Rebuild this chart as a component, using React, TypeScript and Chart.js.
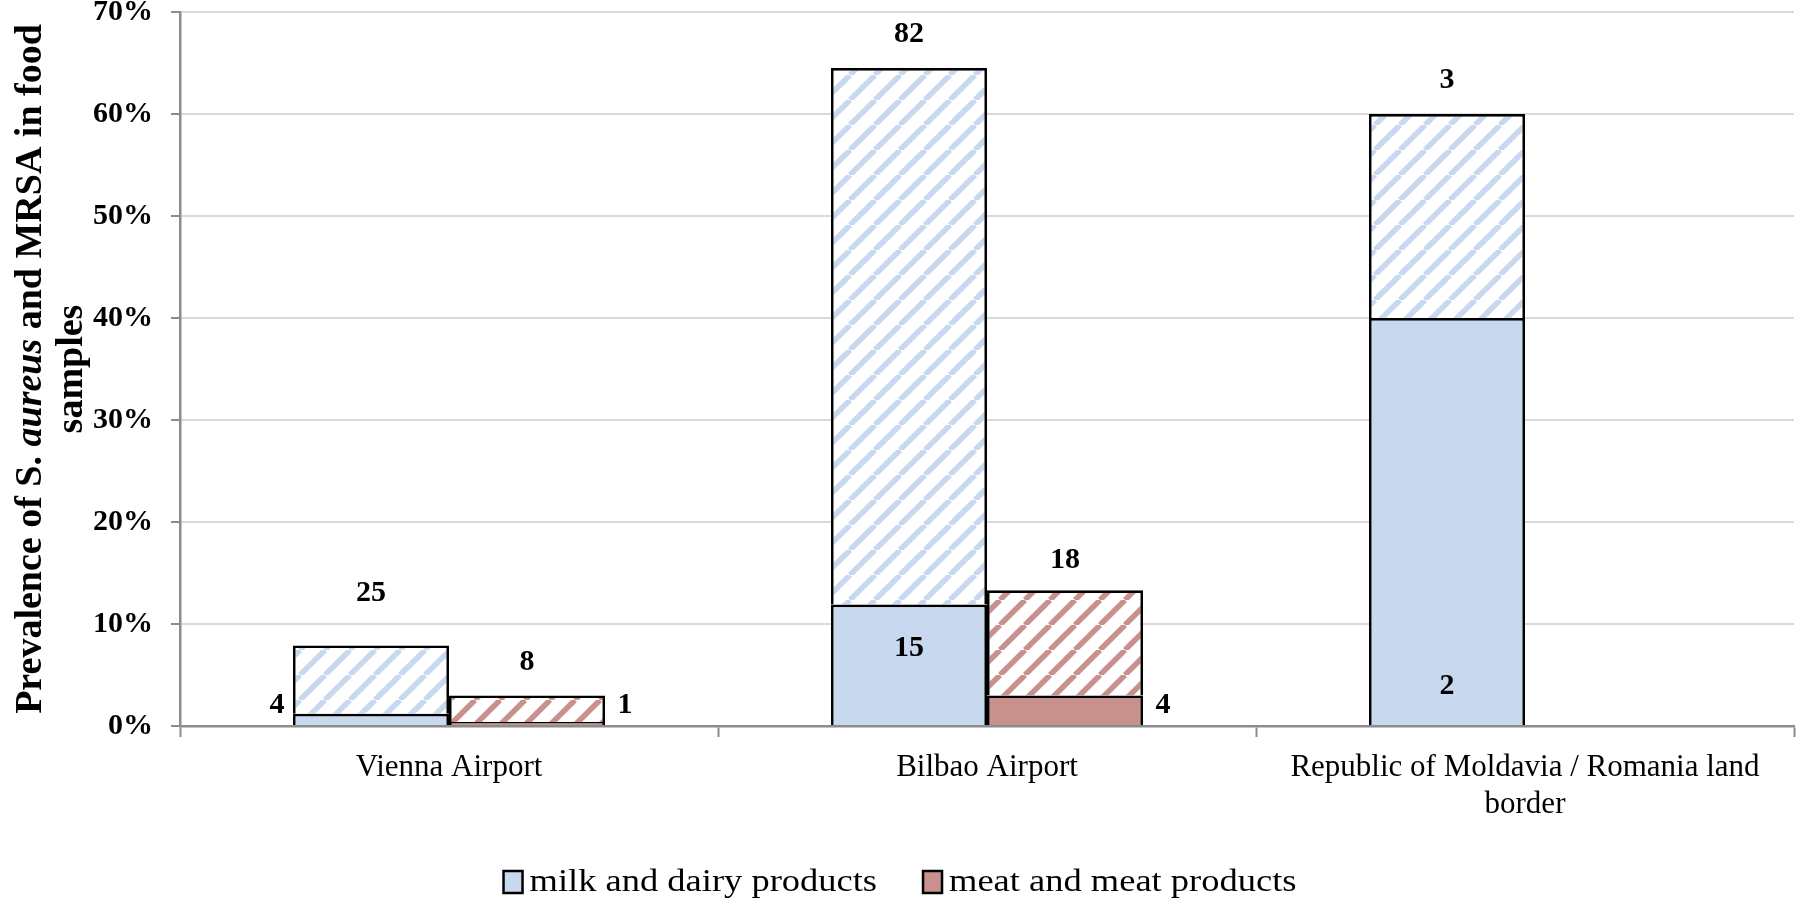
import { useEffect, useRef } from "react";
import { Chart, registerables } from "chart.js";

Chart.register(...registerables);

const categories = [
  ["Vienna Airport"],
  ["Bilbao Airport"],
  ["Republic of Moldavia / Romania land", "border"],
];

// prevalence (%) : solid = MRSA, hatched top = S. aureus
const milkMrsa = [1.2, 11.9, 40];
const milkSaureus = [7.9, 64.5, 60];
const meatMrsa = [0.4, 3.0, null];
const meatSaureus = [3.0, 13.3, null];

const milkSaureusLabels = ["25", "82", "3"];
const meatSaureusLabels = ["8", "18", ""];
const milkMrsaLabels = ["4", "15", "2"];
const meatMrsaLabels = ["1", "4", ""];

// where the small count labels sit
const milkTopLift = [52, 34, 34];
const meatTopLift = [33, 30, 30];
const milkMrsaPlace = ["left", "inside-top", "inside-bottom"];
const meatMrsaPlace = ["right", "right", ""];

const legendLabels = ["milk and dairy products", "meat and meat products"];

const MILK = "#C8D8EF";
const MEAT = "#C9918D";
const AXIS = "#8C8C8C";
const FONT = "'Liberation Serif', 'Times New Roman', serif";

function hatch(color: string) {
  const s = 25;
  const c = document.createElement("canvas");
  c.width = s;
  c.height = s;
  const g = c.getContext("2d")!;
  g.fillStyle = "#fff";
  g.fillRect(0, 0, s, s);
  g.strokeStyle = color;
  g.lineWidth = 5.5;
  for (const k of [-1, 0, 1]) {
    g.beginPath();
    g.moveTo(k * s, s);
    g.lineTo(k * s + s, 0);
    g.stroke();
  }
  return g.createPattern(c, "repeat")!;
}

const barLabels = {
  id: "barLabels",
  afterDatasetsDraw(chart: any) {
    const ctx = chart.ctx;
    ctx.save();
    ctx.font = `bold 30px ${FONT}`;
    ctx.fillStyle = "#000";
    ctx.textAlign = "center";
    ctx.textBaseline = "middle";
    const groups = [
      { mrsa: 0, top: 1, topLabels: milkSaureusLabels, lift: milkTopLift, mrsaLabels: milkMrsaLabels, place: milkMrsaPlace },
      { mrsa: 2, top: 3, topLabels: meatSaureusLabels, lift: meatTopLift, mrsaLabels: meatMrsaLabels, place: meatMrsaPlace },
    ];
    groups.forEach((g) => {
      const topMeta = chart.getDatasetMeta(g.top);
      const mrsaMeta = chart.getDatasetMeta(g.mrsa);
      topMeta.data.forEach((bar: any, i: number) => {
        if (g.topLabels[i]) {
          const p = bar.getProps(["x", "y"], true);
          ctx.fillText(g.topLabels[i], p.x, p.y - g.lift[i]);
        }
        if (g.mrsaLabels[i]) {
          const m = mrsaMeta.data[i].getProps(["x", "y", "base", "width"], true);
          const pl = g.place[i];
          if (pl === "left") ctx.fillText(g.mrsaLabels[i], m.x - m.width / 2 - 16, m.base - 20);
          else if (pl === "right") ctx.fillText(g.mrsaLabels[i], m.x + m.width / 2 + 20, m.base - 20);
          else if (pl === "inside-top") ctx.fillText(g.mrsaLabels[i], m.x, m.y + 44);
          else ctx.fillText(g.mrsaLabels[i], m.x, m.base - 39);
        }
      });
    });
    ctx.restore();
  },
};

const extras = {
  id: "extras",
  afterDraw(chart: any) {
    const ctx = chart.ctx;
    const area = chart.chartArea;
    const cy = (area.top + area.bottom) / 2;
    ctx.save();
    ctx.fillStyle = "#000";
    ctx.textBaseline = "middle";

    // y axis title, two lines, "aureus" in italics
    const parts: [string, boolean][] = [
      ["Prevalence of S. ", false],
      ["aureus", true],
      [" and MRSA in food", false],
    ];
    const fontFor = (it: boolean) => `${it ? "italic " : ""}bold 38px ${FONT}`;
    let total = 0;
    parts.forEach(([t, it]) => {
      ctx.font = fontFor(it);
      total += ctx.measureText(t).width;
    });
    ctx.save();
    ctx.translate(31, cy);
    ctx.rotate(-Math.PI / 2);
    ctx.textAlign = "left";
    let x = -total / 2;
    parts.forEach(([t, it]) => {
      ctx.font = fontFor(it);
      ctx.fillText(t, x, 0);
      x += ctx.measureText(t).width;
    });
    ctx.restore();
    ctx.save();
    ctx.translate(72, cy);
    ctx.rotate(-Math.PI / 2);
    ctx.textAlign = "center";
    ctx.font = fontFor(false);
    ctx.fillText("samples", 0, 0);
    ctx.restore();

    // legend (text slightly widened like the source)
    const stretch = 1.14;
    ctx.font = `32px ${FONT}`;
    ctx.textAlign = "left";
    const colors = [MILK, MEAT];
    const boxW = 19, boxH = 22, gap = 7, itemGap = 46;
    const widths = legendLabels.map((l) => boxW + gap + ctx.measureText(l).width * stretch);
    const full = widths.reduce((a, b) => a + b, 0) + itemGap * (widths.length - 1);
    let lx = chart.width / 2 - full / 2;
    const ly = 882;
    legendLabels.forEach((l, i) => {
      ctx.fillStyle = colors[i];
      ctx.fillRect(lx, ly - boxH / 2, boxW, boxH);
      ctx.strokeStyle = "#000";
      ctx.lineWidth = 2.5;
      ctx.strokeRect(lx, ly - boxH / 2, boxW, boxH);
      ctx.fillStyle = "#000";
      ctx.save();
      ctx.translate(lx + boxW + gap, ly + 1);
      ctx.scale(stretch, 1);
      ctx.fillText(l, 0, 0);
      ctx.restore();
      lx += widths[i] + itemGap;
    });
    ctx.restore();
  },
};

export default function App() {
  const canvasRef = useRef<HTMLCanvasElement | null>(null);

  useEffect(() => {
    if (!canvasRef.current) return;
    const ctx = canvasRef.current.getContext("2d");
    if (!ctx) return;

    const bar = {
      borderColor: "#000",
      borderWidth: 2.7,
      borderSkipped: "bottom" as const,
      barPercentage: 1,
      categoryPercentage: 0.58,
    };

    const chart = new Chart(ctx, {
      type: "bar",
      data: {
        labels: categories as any,
        datasets: [
          { ...bar, label: legendLabels[0], data: milkMrsa, stack: "milk", backgroundColor: MILK },
          {
            ...bar,
            label: "milk S. aureus",
            data: milkSaureus.map((v, i) => v - milkMrsa[i]),
            stack: "milk",
            backgroundColor: hatch(MILK),
          },
          { ...bar, label: legendLabels[1], data: meatMrsa, stack: "meat", backgroundColor: MEAT },
          {
            ...bar,
            label: "meat S. aureus",
            data: meatSaureus.map((v, i) => (v == null ? null : v - (meatMrsa[i] ?? 0))),
            stack: "meat",
            backgroundColor: hatch(MEAT),
          },
        ],
      },
      options: {
        responsive: true,
        maintainAspectRatio: false,
        animation: false,
        layout: { padding: { left: 0, right: 6, top: 12, bottom: 78 } },
        plugins: {
          legend: { display: false },
          tooltip: { enabled: false },
        },
        scales: {
          x: {
            stacked: true,
            grid: {
              display: true,
              drawOnChartArea: false,
              offset: true,
              tickLength: 11,
              tickColor: AXIS,
              tickWidth: 2,
            },
            border: { color: AXIS, width: 2.5 },
            ticks: {
              color: "#000",
              padding: 12,
              font: { family: FONT, size: 31, lineHeight: 1.2 },
            },
            afterFit: (s: any) => {
              s.height = 100;
              s.paddingLeft = 0;
              s.paddingRight = 0;
            },
          },
          y: {
            stacked: true,
            min: 0,
            max: 70,
            ticks: {
              stepSize: 10,
              color: "#000",
              padding: 18,
              font: { family: FONT, size: 30, weight: "bold" },
              callback: (v: any) => `${v}%`,
            },
            grid: {
              color: "#D9D9D9",
              lineWidth: 2,
              tickLength: 9,
              tickColor: AXIS,
              tickWidth: 2,
            },
            border: { color: AXIS, width: 2.5 },
            afterFit: (s: any) => {
              s.width = 180;
              s.paddingTop = 0;
              s.paddingBottom = 0;
            },
          },
        },
      },
      plugins: [barLabels, extras],
    });

    return () => {
      chart.destroy();
    };
  }, []);

  return (
    <div style={{ position: "absolute", left: 0, top: 0, width: 1800, height: 904, background: "#fff" }}>
      <canvas ref={canvasRef} />
    </div>
  );
}
